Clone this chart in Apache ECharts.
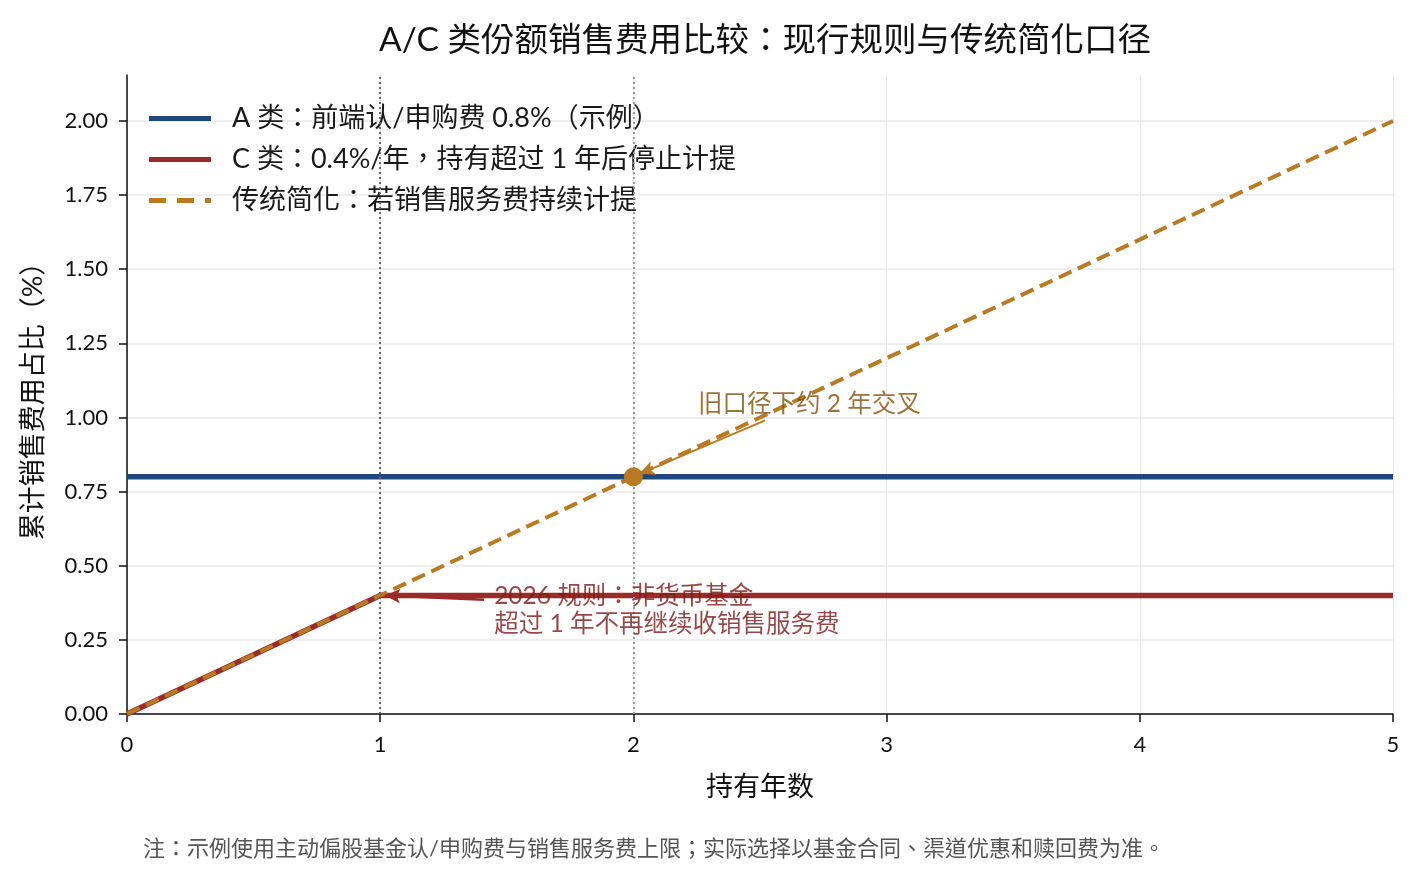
<!DOCTYPE html>
<html>
<head>
<meta charset="utf-8">
<script src="https://cdn.jsdelivr.net/npm/echarts@6/dist/echarts.min.js"></script>
<style>
html,body{margin:0;padding:0;background:#fff;}
#chart{width:1420px;height:879px;}
</style>
</head>
<body>
<div id="chart"></div>
<script>
// ---- data ----
const years = [0, 1, 2, 3, 4, 5];
const classA = [0.8, 0.8, 0.8, 0.8, 0.8, 0.8];
const classC = [0, 0.4, 0.4, 0.4, 0.4, 0.4];
const traditional = [0, 0.4, 0.8, 1.2, 1.6, 2.0];
const crossPoint = [2, 0.8];
const yTicks = [0, 0.25, 0.5, 0.75, 1.0, 1.25, 1.5, 1.75, 2.0];
const seriesNames = ['A 类：前端认/申购费 0.8%（示例）', 'C 类：0.4%/年，持有超过 1 年后停止计提', '传统简化：若销售服务费持续计提'];
const titleText = 'A/C 类份额销售费用比较：现行规则与传统简化口径';
const noteText = '注：示例使用主动偏股基金认/申购费与销售服务费上限；实际选择以基金合同、渠道优惠和赎回费为准。';
const annoCross = '旧口径下约 2 年交叉';
const annoRule = '2026 规则：非货币基金\n超过 1 年不再继续收销售服务费';

const FONT = "Lato, 'Noto Sans CJK TC', sans-serif";
const BLUE = '#1d4a7a', RED = '#9a2a2c', GOLD = '#b87a22';
const SOLID_ICON = 'path://M0,0H62V5H0Z';
const DASH_ICON = 'path://M0,0H17V5H0Z M28,0H45V5H28Z M56,0H62V5H56Z';

const zip = (xs, ys) => xs.map((x, i) => [x, ys[i]]);

const chart = echarts.init(document.getElementById('chart'), null, {renderer: 'canvas'});
chart.setOption({
  animation: false,
  textStyle: {fontFamily: FONT},
  title: {
    text: titleText, left: 760, top: 18, textAlign: 'center',
    textStyle: {fontFamily: FONT, fontSize: 33.5, fontWeight: 'normal', color: '#111'}
  },
  grid: {left: 127, right: 27, top: 75, bottom: 165, containLabel: false},
  legend: {
    data: [
      {name: seriesNames[0], icon: SOLID_ICON, itemStyle: {color: BLUE}},
      {name: seriesNames[1], icon: SOLID_ICON, itemStyle: {color: RED}},
      {name: seriesNames[2], icon: DASH_ICON, itemStyle: {color: GOLD}}
    ],
    orient: 'vertical', left: 144, top: 100,
    itemWidth: 62, itemHeight: 5, itemGap: 14,
    textStyle: {fontFamily: FONT, fontSize: 27, color: '#1a1a1a', padding: [0, 0, 0, 16]}
  },
  xAxis: {
    type: 'value', min: 0, max: 5, interval: 1,
    name: '持有年数', nameLocation: 'middle', nameGap: 60,
    nameTextStyle: {fontFamily: FONT, fontSize: 27, color: '#111'},
    axisLine: {show: true, onZero: false, lineStyle: {color: '#111', width: 1.5}},
    axisTick: {show: true, length: 8, lineStyle: {color: '#111', width: 1.5}},
    axisLabel: {fontFamily: FONT, fontSize: 22, color: '#111', margin: 20},
    splitLine: {show: true, lineStyle: {color: '#e8e8e8', width: 1}}
  },
  yAxis: {
    type: 'value', min: 0, max: 2.155, interval: 0.25,
    name: '累计销售费用占比（%）', nameLocation: 'middle', nameGap: 80,
    nameTextStyle: {fontFamily: FONT, fontSize: 27, color: '#111'},
    axisLine: {show: true, onZero: false, lineStyle: {color: '#111', width: 1.5}},
    axisTick: {show: true, length: 8, customValues: yTicks, lineStyle: {color: '#111', width: 1.5}},
    axisLabel: {fontFamily: FONT, fontSize: 22, color: '#111', margin: 19, customValues: yTicks,
      formatter: v => v.toFixed(2)},
    splitLine: {show: true, lineStyle: {color: '#e8e8e8', width: 1.5}}
  },
  series: [
    {
      name: seriesNames[0], type: 'line', data: zip(years, classA), symbol: 'none',
      lineStyle: {color: BLUE, width: 5.5}, itemStyle: {color: BLUE}, z: 3,
      markLine: {
        silent: true, symbol: ['none', 'none'], label: {show: false},
        data: [
          {xAxis: 1, lineStyle: {color: '#666', width: 2, type: [2, 3]}},
          {xAxis: 2, lineStyle: {color: '#999', width: 2, type: [2, 3]}}
        ]
      }
    },
    {
      name: seriesNames[1], type: 'line', data: zip(years, classC), symbol: 'none',
      lineStyle: {color: RED, width: 5.5}, itemStyle: {color: RED}, z: 3
    },
    {
      name: seriesNames[2], type: 'line', data: zip(years, traditional), symbol: 'none',
      lineStyle: {color: GOLD, width: 4, type: [14, 7]}, itemStyle: {color: GOLD}, z: 4
    },
    {
      type: 'scatter', data: [crossPoint], symbol: 'circle', symbolSize: 19,
      itemStyle: {color: GOLD, opacity: 1}, z: 6, silent: true
    },
    {
      type: 'scatter', symbolSize: 0, silent: true, z: 7,
      data: [
        {value: [2.255, 1.046], label: {show: true, position: 'right', distance: 0,
          formatter: annoCross, fontFamily: FONT, fontSize: 24.5, color: '#7f520c'}},
        {value: [1.45, 0.351], label: {show: true, position: 'right', distance: 0, lineHeight: 28,
          formatter: annoRule, fontFamily: FONT, fontSize: 24.5, color: '#7c1a1c', align: 'left'}}
      ],
      markLine: {
        silent: true, label: {show: false}, symbol: ['none', 'arrow'], symbolSize: [11, 15],
        data: [
          [{coord: [2.52, 0.99], lineStyle: {color: GOLD, width: 2, type: 'solid'}}, {coord: [2.025, 0.81]}],
          [{coord: [1.41, 0.385], lineStyle: {color: RED, width: 2.5, type: 'solid'}}, {coord: [1.02, 0.4]}]
        ]
      }
    }
  ],
  graphic: [
    {type: 'text', left: 143, top: 838,
     style: {text: noteText, fontFamily: FONT, fontSize: 22, fill: '#555'}}
  ]
});
</script>
</body>
</html>
